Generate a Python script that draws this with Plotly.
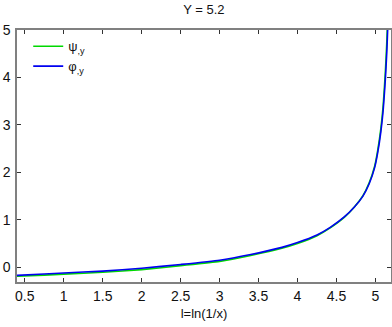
import plotly.graph_objects as go

# Curve samples
l_vals = [0.4, 0.75, 1.0, 1.5, 2.0, 2.5, 3.0, 3.4, 3.8, 4.0, 4.25, 4.42, 4.6,
          4.73, 4.84, 4.92, 4.99, 5.03, 5.07, 5.1, 5.127, 5.145, 5.157, 5.167]
psi_y = [-0.19, -0.165, -0.145, -0.105, -0.05, 0.035, 0.125, 0.25, 0.40, 0.50, 0.665,
         0.83, 1.05, 1.27, 1.51, 1.78, 2.13, 2.47, 2.93, 3.42, 4.1, 4.7, 5.25, 5.9]
phi_y = [-0.17, -0.14, -0.12, -0.08, -0.02, 0.06, 0.15, 0.27, 0.42, 0.52, 0.68,
         0.84, 1.06, 1.27, 1.50, 1.76, 2.10, 2.42, 2.86, 3.32, 3.95, 4.5, 5.0, 5.6]

FONT = "Liberation Sans, Arial, sans-serif"

fig = go.Figure()
fig.add_trace(go.Scatter(x=l_vals, y=psi_y, mode="lines", name="ψ<sub>,y</sub>",
                         line=dict(color="#00d800", width=1.6, shape="spline", smoothing=0.5)))
fig.add_trace(go.Scatter(x=l_vals, y=phi_y, mode="lines", name="φ<sub>,y</sub>",
                         line=dict(color="#0000f0", width=1.6, shape="spline", smoothing=0.5)))

axis_common = dict(
    showgrid=False, zeroline=False, showline=True, mirror="ticks",
    linecolor="#808080", linewidth=1.5, ticks="inside", ticklen=4,
    tickcolor="#333333", tickfont=dict(family=FONT, size=14, color="#111"),
    automargin=False,
)

fig.update_layout(
    width=392, height=327,
    margin=dict(l=17, r=1, t=30, b=45),
    paper_bgcolor="white", plot_bgcolor="white",
    title=dict(text="Y = 5.2", x=0.52, xanchor="center", y=0.97, yanchor="middle",
               font=dict(family=FONT, size=13, color="#111")),
    xaxis=dict(range=[0.4, 5.2], dtick=0.5, tick0=0.5,
               title=dict(text="l=ln(1/x)", standoff=6,
                          font=dict(family=FONT, size=13, color="#111")),
               **axis_common),
    yaxis=dict(range=[-0.31, 5], dtick=1, tick0=0, ticklabelstandoff=2, **axis_common),
    legend=dict(x=0.03, y=0.995, xanchor="left", yanchor="top",
                bgcolor="rgba(0,0,0,0)", font=dict(family=FONT, size=13, color="#111"),
                tracegroupgap=2),
    showlegend=True,
)

fig.write_html("out.html", config={"displayModeBar": False},
               post_script="document.body.style.margin='0';")
